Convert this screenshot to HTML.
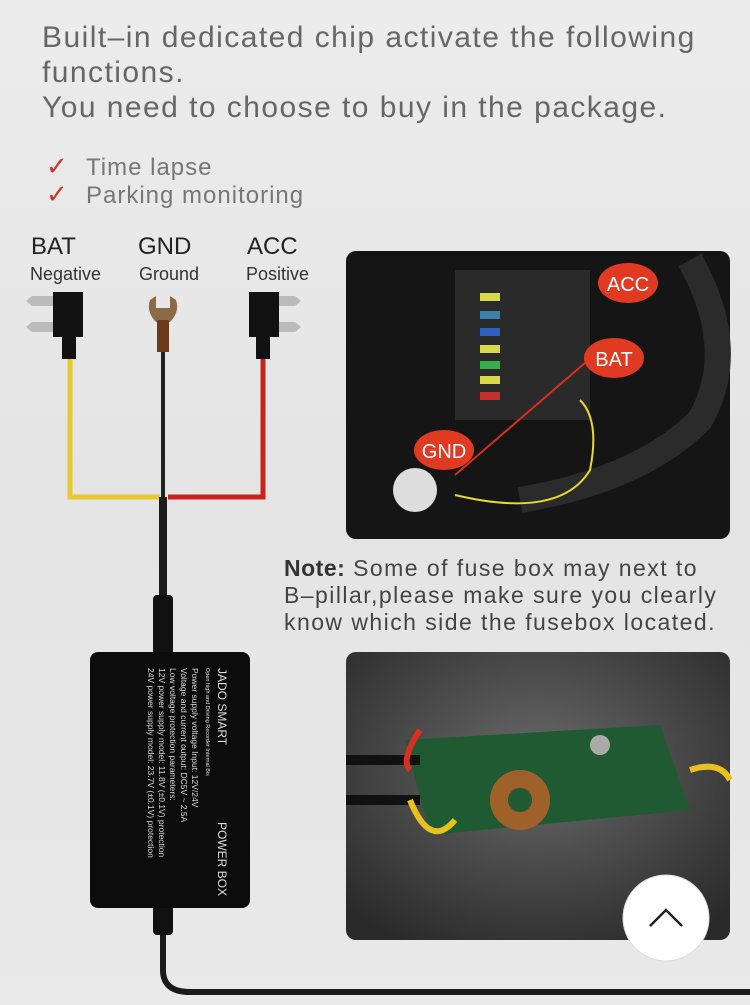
<!DOCTYPE html>
<html><head><meta charset="utf-8"><style>
html,body{margin:0;padding:0;width:750px;height:1005px;overflow:hidden;background:#fff}
.wrap{position:absolute;left:0;top:0;width:750px;height:1005px;background:linear-gradient(180deg,#ececec,#e4e4e4 50%,#e9e9e9);}
.t{position:absolute;font-family:"Liberation Sans",sans-serif;color:#555;white-space:nowrap}
</style></head><body><div class="wrap">
<div class="t" style="left:42px;top:20px;font-size:30px;line-height:35px;letter-spacing:1.45px;color:#666">Built–in dedicated chip activate the following<br>functions.<br>You need to choose to buy in the package.</div>
<div class="t" style="left:86px;top:154px;font-size:24px;line-height:28px;color:#777;letter-spacing:1px">Time lapse<br>Parking monitoring</div>
<div class="t" style="left:46px;top:152px;font-size:26px;color:#c8372d;line-height:28px">✓<br>✓</div>
<div class="t" style="left:31px;top:233px;font-size:24px;color:#222">BAT</div>
<div class="t" style="left:30px;top:264px;font-size:18px;color:#333">Negative</div>
<div class="t" style="left:138px;top:233px;font-size:24px;color:#222">GND</div>
<div class="t" style="left:139px;top:264px;font-size:18px;color:#333">Ground</div>
<div class="t" style="left:247px;top:233px;font-size:24px;color:#222">ACC</div>
<div class="t" style="left:246px;top:264px;font-size:18px;color:#333">Positive</div>
<div class="t" style="left:284px;top:555px;font-size:23px;line-height:27px;color:#444;letter-spacing:1.45px"><b style="color:#333;letter-spacing:0.5px">Note:</b> Some of fuse box may next to<br>B–pillar,please make sure you clearly<br>know which side the fusebox located.</div>
<svg width="750" height="1005" style="position:absolute;left:0;top:0">
<path d="M70 355 V497 H160" fill="none" stroke="#e8c82a" stroke-width="5"/>
<path d="M263 355 V497 H168" fill="none" stroke="#c8241c" stroke-width="5"/>
<path d="M163 350 V500" fill="none" stroke="#222" stroke-width="4"/>
<path d="M163 497 V600" fill="none" stroke="#1a1a1a" stroke-width="8"/>
<rect x="153" y="595" width="20" height="60" rx="4" fill="#111"/>
<path d="M163 905 V970 Q163 992 190 992 H750" fill="none" stroke="#1a1a1a" stroke-width="6"/>
<rect x="153" y="905" width="20" height="30" rx="4" fill="#111"/>
<path d="M32 296 h30 v10 h-30 l-6-5z M32 322 h30 v10 h-30 l-6-5z" fill="#bbb"/>
<rect x="53" y="292" width="30" height="45" fill="#111"/>
<rect x="62" y="337" width="14" height="22" fill="#111"/>
<path d="M295 296 h-30 v10 h30 l6-5z M295 322 h-30 v10 h30 l6-5z" fill="#bbb"/>
<rect x="249" y="292" width="30" height="45" fill="#111"/>
<rect x="256" y="337" width="14" height="22" fill="#111"/>
<path d="M150 300 q-4 12 6 22 h14 q10-10 6-22 l-6 -4 v12 h-14 v-12z" fill="#8c6a48"/>
<rect x="157" y="320" width="12" height="32" fill="#6a3a1a"/>
<rect x="90" y="652" width="160" height="256" rx="8" fill="#0c0c0c"/>
<g font-family="Liberation Sans,sans-serif" fill="#ddd">
<text transform="translate(218,668) rotate(90)" font-size="12">JADO SMART</text>
<text transform="translate(218,822) rotate(90)" font-size="12">POWER BOX</text>
<text transform="translate(206,668) rotate(90)" font-size="5.5">Open high and Driving Recorder Internal Bis</text>
<text transform="translate(192,668) rotate(90)" font-size="8.5">Power supply voltage Input: 12V/24V</text>
<text transform="translate(181,668) rotate(90)" font-size="8.5">Voltage and current output: DC5V ~ 2.5A</text>
<text transform="translate(170,668) rotate(90)" font-size="8.5">Low voltage protection parameters:</text>
<text transform="translate(159,668) rotate(90)" font-size="8.5">12V power supply model: 11.8V (±0.1V) protection</text>
<text transform="translate(148,668) rotate(90)" font-size="8.5">24V power supply model: 23.7V (±0.1V) protection</text>
</g>
<rect x="346" y="251" width="384" height="288" rx="10" fill="#151515"/>
<rect x="455" y="270" width="135" height="150" fill="#2a2a2a"/>
<g>
<rect x="480" y="293" width="20" height="8" fill="#d8d84a"/><rect x="480" y="311" width="20" height="8" fill="#3a80a8"/>
<rect x="480" y="328" width="20" height="8" fill="#3060c0"/><rect x="480" y="345" width="20" height="8" fill="#d8d84a"/>
<rect x="480" y="361" width="20" height="8" fill="#3ab04a"/><rect x="480" y="376" width="20" height="8" fill="#d8d84a"/>
<rect x="480" y="392" width="20" height="8" fill="#c83030"/>
</g>
<path d="M690 260 Q740 350 700 420 Q640 480 520 500" fill="none" stroke="#2b2b2b" stroke-width="26"/>
<path d="M455 475 L600 350" stroke="#d83020" stroke-width="2"/>
<path d="M455 495 Q560 520 590 470 Q600 420 580 400" fill="none" stroke="#e8d830" stroke-width="2"/>
<circle cx="415" cy="490" r="22" fill="#ddd"/>
<ellipse cx="628" cy="283" rx="30" ry="20" fill="#e03a22"/><text x="628" y="291" font-family="Liberation Sans,sans-serif" font-size="20" fill="#fff" text-anchor="middle">ACC</text>
<ellipse cx="614" cy="358" rx="30" ry="20" fill="#e03a22"/><text x="614" y="366" font-family="Liberation Sans,sans-serif" font-size="20" fill="#fff" text-anchor="middle">BAT</text>
<ellipse cx="444" cy="450" rx="30" ry="20" fill="#e03a22"/><text x="444" y="458" font-family="Liberation Sans,sans-serif" font-size="20" fill="#fff" text-anchor="middle">GND</text>
<defs><radialGradient id="g" cx="0.5" cy="0.4" r="0.7"><stop offset="0" stop-color="#6a6a6a"/><stop offset="1" stop-color="#2a2a2a"/></radialGradient></defs>
<rect x="346" y="652" width="384" height="288" rx="10" fill="url(#g)"/>
<path d="M405 740 L660 725 L690 810 L430 835 Z" fill="#1f5a32"/>
<circle cx="520" cy="800" r="30" fill="#a0602a"/><circle cx="520" cy="800" r="12" fill="#1f5a32"/>
<circle cx="600" cy="745" r="10" fill="#aaa"/>
<path d="M346 760 H420 M346 800 H420" stroke="#111" stroke-width="10"/>
<path d="M420 730 Q400 760 410 770" fill="none" stroke="#d83020" stroke-width="6"/>
<path d="M690 770 Q720 760 730 780" fill="none" stroke="#e8c020" stroke-width="6"/>
<path d="M410 800 Q430 850 455 820" fill="none" stroke="#e8c020" stroke-width="6"/>
<circle cx="666" cy="918" r="43" fill="#fff" stroke="#ddd"/>
<path d="M650 926 L666 910 L682 926" fill="none" stroke="#222" stroke-width="2.5"/>
</svg>
</div></body></html>
